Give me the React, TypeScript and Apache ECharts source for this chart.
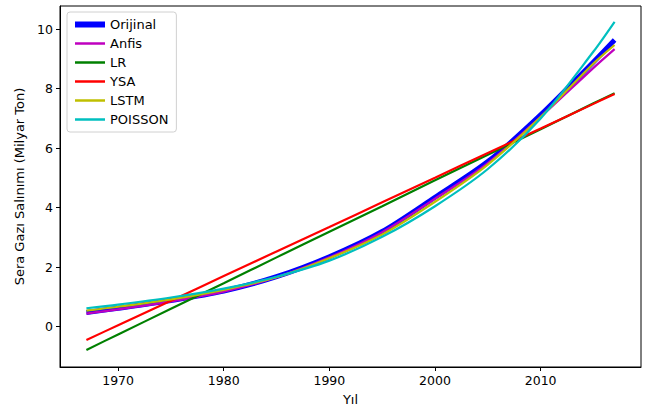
import React, { useEffect, useRef } from "react";
import * as echarts from "echarts";

const years = [1967, 1970, 1975, 1980, 1985, 1990, 1995, 2000, 2005, 2010, 2015, 2017];
const orijinal = [0.48, 0.62, 0.88, 1.2, 1.68, 2.35, 3.2, 4.35, 5.55, 7.12, 8.9, 9.64];
const anfis = [0.44, 0.58, 0.85, 1.18, 1.66, 2.33, 3.18, 4.3, 5.5, 7.05, 8.7, 9.33];
const lr = [-0.78, -0.26, 0.6, 1.46, 2.33, 3.19, 4.05, 4.92, 5.78, 6.64, 7.51, 7.85];
const ysa = [-0.45, 0.05, 0.87, 1.7, 2.53, 3.35, 4.18, 5.01, 5.84, 6.66, 7.49, 7.82];
const lstm = [0.54, 0.67, 0.92, 1.24, 1.66, 2.3, 3.1, 4.2, 5.45, 7.05, 8.85, 9.47];
const poisson = [0.62, 0.74, 0.98, 1.28, 1.68, 2.22, 3.02, 4.05, 5.3, 7.0, 9.25, 10.25];

const xTicks = [1970, 1980, 1990, 2000, 2010];
const yTicks = [0, 2, 4, 6, 8, 10];

const seriesDefs = [
  { name: "Orijinal", values: orijinal, color: "#0000ff", width: 5 },
  { name: "Anfis", values: anfis, color: "#bf00bf", width: 2.2 },
  { name: "LR", values: lr, color: "#008000", width: 2.2 },
  { name: "YSA", values: ysa, color: "#ff0000", width: 2.2 },
  { name: "LSTM", values: lstm, color: "#bfbf00", width: 2.2 },
  { name: "POISSON", values: poisson, color: "#00bfbf", width: 2.2 },
];

const FONT = "DejaVu Sans";

export default function App() {
  const ref = useRef<HTMLDivElement>(null);
  useEffect(() => {
    if (!ref.current) return;
    const chart = echarts.init(ref.current, undefined, { renderer: "svg" });
    chart.setOption({
      animation: false,
      backgroundColor: "#ffffff",
      textStyle: { fontFamily: FONT },
      grid: {
        left: 60,
        top: 6,
        right: 6,
        bottom: 41,
        containLabel: false,
        outerBoundsMode: "none",
        show: true,
        borderColor: "#000",
        borderWidth: 1,
        backgroundColor: "transparent",
      },
      legend: {
        orient: "vertical",
        left: 67,
        top: 12,
        padding: [6, 8, 6, 5],
        itemWidth: 30,
        itemHeight: 14,
        itemGap: 6,
        backgroundColor: "rgba(255,255,255,0.85)",
        borderColor: "#d0d0d0",
        borderWidth: 1,
        borderRadius: 3,
        itemStyle: { opacity: 0 },
        textStyle: { fontFamily: FONT, fontSize: 13, color: "#000" },
        data: seriesDefs.map((s) => ({
          name: s.name,
          itemStyle: { opacity: 0 },
          lineStyle: { width: s.width === 5 ? 6 : 2.5, color: s.color, opacity: 1 },
        })),
      },
      xAxis: {
        type: "value",
        min: 1964.5,
        max: 2019.5,
        name: "Yıl",
        nameLocation: "middle",
        nameGap: 26,
        nameTextStyle: { fontFamily: FONT, fontSize: 13, color: "#000" },
        axisLine: { show: true, onZero: false, lineStyle: { color: "#000", width: 1 } },
        axisTick: { show: true, length: 4, lineStyle: { color: "#000" }, customValues: xTicks },
        axisLabel: {
          fontFamily: FONT,
          fontSize: 12.5,
          color: "#000",
          margin: 7,
          customValues: xTicks,
          formatter: (v: number) => String(v),
        },
        splitLine: { show: false },
      },
      yAxis: {
        type: "value",
        min: -1.355,
        max: 10.78,
        name: "Sera Gazı Salınımı (Milyar Ton)",
        nameLocation: "middle",
        nameGap: 28,
        nameTextStyle: { fontFamily: FONT, fontSize: 13, color: "#000" },
        axisLine: { show: true, onZero: false, lineStyle: { color: "#000", width: 1 } },
        axisTick: { show: true, length: 4, lineStyle: { color: "#000" }, customValues: yTicks },
        axisLabel: {
          fontFamily: FONT,
          fontSize: 12.5,
          color: "#000",
          margin: 7,
          customValues: yTicks,
          formatter: (v: number) => String(v),
        },
        splitLine: { show: false },
      },
      series: seriesDefs.map((s) => ({
        name: s.name,
        type: "line",
        data: years.map((y, i) => [y, s.values[i]]),
        smooth: 0.3,
        symbol: "none",
        showSymbol: false,
        color: s.color,
        lineStyle: { color: s.color, width: s.width },
      })),
    });
    return () => chart.dispose();
  }, []);
  return (
    <div
      ref={ref}
      style={{ position: "fixed", left: 0, top: 0, width: 647, height: 408 }}
    />
  );
}
